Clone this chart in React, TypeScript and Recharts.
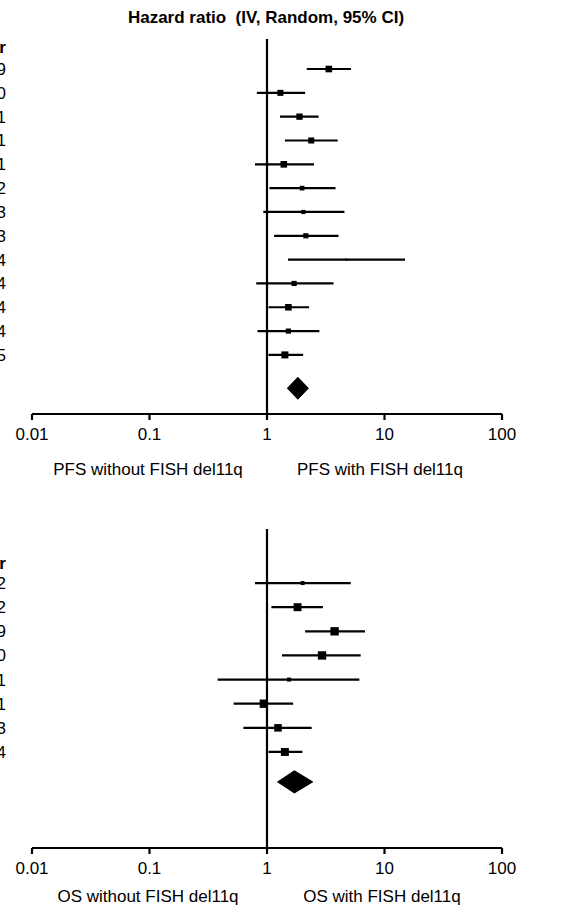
import React from 'react';
import { ComposedChart, Scatter, XAxis, YAxis, ErrorBar, ReferenceLine } from 'recharts';

// ---------- data ----------
const pfsYears = ['2009', '2010', '2011', '2011', '2011', '2012', '2013', '2013', '2014', '2014', '2014', '2014', '2015'];
const pfsHR = [3.36, 1.30, 1.89, 2.38, 1.39, 1.99, 2.04, 2.14, 4.74, 1.70, 1.52, 1.52, 1.42];
const pfsLow = [2.18, 0.82, 1.29, 1.42, 0.79, 1.05, 0.93, 1.15, 1.51, 0.81, 1.03, 0.83, 1.03];
const pfsHigh = [5.19, 2.11, 2.75, 4.0, 2.51, 3.83, 4.56, 4.06, 14.96, 3.68, 2.28, 2.79, 2.03];
const pfsWeight = [9.9, 8.3, 9.0, 8.3, 9.9, 4.9, 4.0, 6.1, 1.0, 6.1, 9.9, 6.1, 11.2];
const pfsPooled = [1.49, 1.83, 2.25]; // low, estimate, high

const osYears = ['2012', '2012', '2009', '2010', '2011', '2011', '2013', '2014'];
const osHR = [2.01, 1.82, 3.76, 2.94, 1.54, 0.94, 1.24, 1.42];
const osLow = [0.79, 1.09, 2.11, 1.34, 0.38, 0.52, 0.63, 1.03];
const osHigh = [5.16, 2.99, 6.82, 6.27, 6.11, 1.67, 2.40, 2.0];
const osWeight = [3.6, 14.3, 15.8, 15.8, 3.6, 15.8, 12.9, 14.3];
const osPooled = [1.23, 1.71, 2.45];

const xTicks = [0.01, 0.1, 1, 10, 100];
const headerLabel = 'Year';
const titleText = 'Hazard ratio  (IV, Random, 95% CI)';
const pfsAxisTitles = ['PFS without FISH del11q', 'PFS with FISH del11q'];
const osAxisTitles = ['OS without FISH del11q', 'OS with FISH del11q'];

// ---------- styling ----------
const FONT = '"Liberation Sans", Arial, Helvetica, sans-serif';
const FS = 17;
const LW = 2.2;

function buildStudies(hr: number[], low: number[], high: number[], w: number[]) {
  return hr.map((v, i) => ({ hr: v, row: i + 1, err: [v - low[i], high[i] - v], weight: w[i] }));
}

function buildDiamond(pooled: number[], row: number, half: number) {
  const [lo, est, hi] = pooled;
  return [
    { hr: lo, row },
    { hr: est, row: row - half },
    { hr: hi, row },
    { hr: est, row: row + half },
    { hr: lo, row },
  ];
}

const Square = (props: any) => {
  const { cx, cy, payload } = props;
  if (cx == null || cy == null) return <g />;
  const s = 2.1 * Math.sqrt(payload.weight);
  return <rect x={cx - s / 2} y={cy - s / 2} width={s} height={s} fill="#000" />;
};

const Nothing = () => <g />;

type ForestProps = {
  years: string[];
  hr: number[];
  low: number[];
  high: number[];
  weight: number[];
  pooled: number[];
  height: number;
  marginTop: number;
  xAxisHeight: number;
  yDomain: [number, number];
  headerRow: number;
  diamondRow: number;
};

function Forest(p: ForestProps) {
  const studies = buildStudies(p.hr, p.low, p.high, p.weight);
  const diamond = buildDiamond(p.pooled, p.diamondRow, 0.46);
  const yTicks = [p.headerRow, ...p.years.map((_, i) => i + 1)];
  const labelFor = (v: number) => (v === p.headerRow ? headerLabel : p.years[Math.round(v) - 1]);
  const YTick = (t: any) => {
    const v = t.payload.value;
    return (
      <text
        x={t.x}
        y={t.y}
        dy="0.35em"
        textAnchor="end"
        fill="#000"
        fontSize={FS}
        fontFamily={FONT}
        fontWeight={v === p.headerRow ? 'bold' : 'normal'}
      >
        {labelFor(v)}
      </text>
    );
  };
  return (
    <ComposedChart
      width={575}
      height={p.height}
      margin={{ top: p.marginTop, right: 73, bottom: 0, left: 0 }}
    >
      <XAxis
        type="number"
        dataKey="hr"
        scale="log"
        domain={[0.01, 100]}
        ticks={xTicks}
        allowDataOverflow
        interval={0}
        height={p.xAxisHeight}
        tickFormatter={(v: number) => String(v)}
        axisLine={{ stroke: '#000', strokeWidth: LW }}
        tickLine={{ stroke: '#000', strokeWidth: LW }}
        tickSize={6}
        tickMargin={8}
        tick={{ fill: '#000', fontSize: FS, fontFamily: FONT }}
      />
      <YAxis
        type="number"
        dataKey="row"
        domain={p.yDomain}
        allowDataOverflow
        reversed
        width={32}
        ticks={yTicks}
        interval={0}
        axisLine={false}
        tickLine={false}
        tickSize={0}
        tickMargin={26}
        tick={YTick}
      />
      <ReferenceLine x={1} stroke="#000" strokeWidth={LW} ifOverflow="extendDomain" />
      <Scatter data={studies} shape={Square} isAnimationActive={false}>
        <ErrorBar dataKey="err" direction="x" width={0} stroke="#000" strokeWidth={LW} isAnimationActive={false} />
      </Scatter>
      <Scatter
        data={diamond}
        shape={Nothing}
        line={{ stroke: '#000', fill: '#000', strokeWidth: 1 }}
        lineType="joint"
        isAnimationActive={false}
      />
    </ComposedChart>
  );
}

const labelStyle = (cx: number, cy: number, bold = false): React.CSSProperties => ({
  position: 'absolute',
  left: cx - 200,
  top: cy - 11,
  width: 400,
  height: 22,
  lineHeight: '22px',
  textAlign: 'center',
  fontFamily: FONT,
  fontSize: FS,
  fontWeight: bold ? 'bold' : 'normal',
  color: '#000',
  whiteSpace: 'pre',
});

export default function App() {
  return (
    <div style={{ position: 'absolute', left: 0, top: 0, width: 575, height: 906, background: '#fff', overflow: 'hidden' }}>
      <div style={{ position: 'absolute', left: 0, top: 0 }}>
        <Forest
          years={pfsYears}
          hr={pfsHR}
          low={pfsLow}
          high={pfsHigh}
          weight={pfsWeight}
          pooled={pfsPooled}
          height={485}
          marginTop={39}
          xAxisHeight={71}
          yDomain={[-0.26, 15.48]}
          headerRow={0.08}
          diamondRow={14.4}
        />
      </div>
      <div style={{ position: 'absolute', left: 0, top: 485 }}>
        <Forest
          years={osYears}
          hr={osHR}
          low={osLow}
          high={osHigh}
          weight={osWeight}
          pooled={osPooled}
          height={421}
          marginTop={44}
          xAxisHeight={58}
          yDomain={[-1.24, 11.98]}
          headerRow={0.17}
          diamondRow={9.24}
        />
      </div>
      <div style={labelStyle(266, 18, true)}>{titleText}</div>
      <div style={labelStyle(148, 470)}>{pfsAxisTitles[0]}</div>
      <div style={labelStyle(380, 470)}>{pfsAxisTitles[1]}</div>
      <div style={labelStyle(148, 897)}>{osAxisTitles[0]}</div>
      <div style={labelStyle(382, 897)}>{osAxisTitles[1]}</div>
    </div>
  );
}
